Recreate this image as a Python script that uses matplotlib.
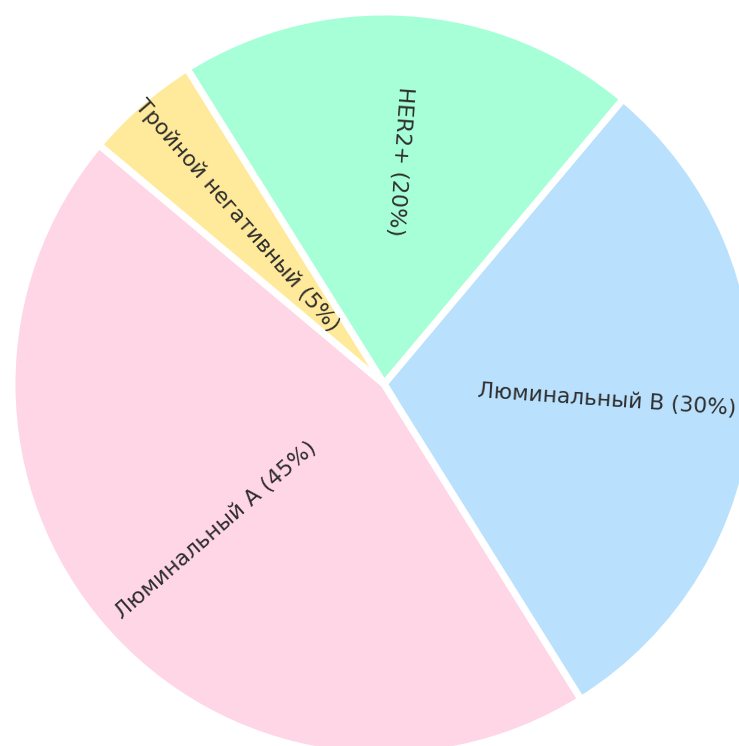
import numpy as np
import matplotlib.pyplot as plt

# Подтипы рака молочной железы
labels = ['Люминальный A', 'Люминальный B', 'HER2+', 'Тройной негативный']
shares = [45, 30, 20, 5]
colors = ['#FFD6E6', '#B9E1FD', '#A6FFD6', '#FFEA9B']

fig = plt.figure(figsize=(7.39, 7.46), dpi=100)
# the pie is bigger than the canvas, so it runs off the right and bottom edges
r_px = 372
cx, cy = 384, 746 - 384
ax = fig.add_axes([(cx - r_px) / 739, (cy - r_px) / 746, 2 * r_px / 739, 2 * r_px / 746])

wedges, _ = ax.pie(shares, colors=colors, startangle=140, counterclock=True,
                   wedgeprops=dict(edgecolor='white', linewidth=5))
ax.set_xlim(-1, 1)
ax.set_ylim(-1, 1)
ax.set_aspect('equal')
ax.axis('off')

# radial labels inside each wedge
for w, lab, s in zip(wedges, labels, shares):
    mid = np.deg2rad((w.theta1 + w.theta2) / 2)
    x, y = 0.6 * np.cos(mid), 0.6 * np.sin(mid)
    rot = np.rad2deg(mid)
    if np.cos(mid) < 0.1:
        rot += 180
    ax.text(x, y, f'{lab} ({s}%)', rotation=rot, rotation_mode='anchor',
            ha='center', va='center', fontsize=15.7, color='#2e2e2e')

fig.savefig('out.png', dpi=100)
